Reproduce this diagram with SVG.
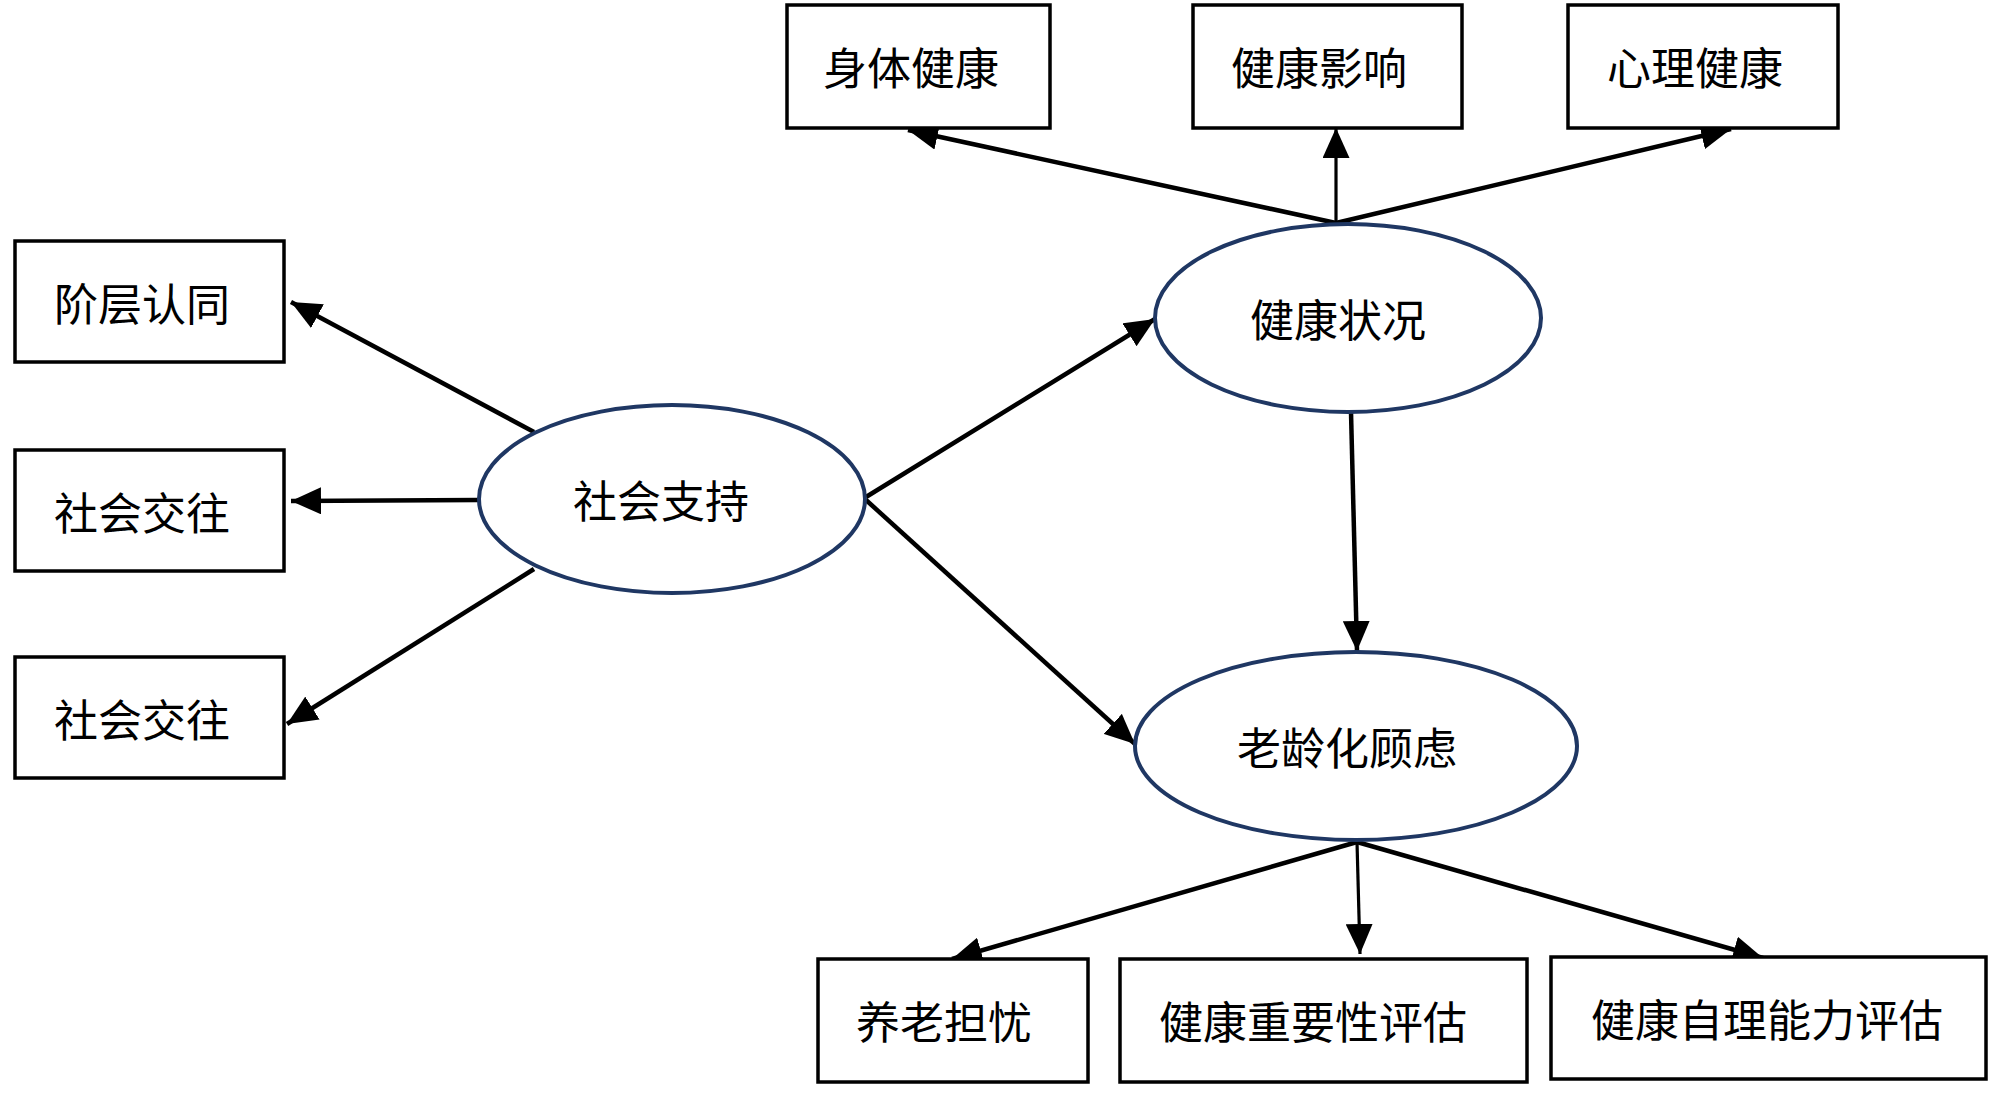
<svg xmlns="http://www.w3.org/2000/svg" width="2000" height="1097" viewBox="0 0 2000 1097">
<style>
.box{fill:#fff;stroke:#000;stroke-width:3.5}
.ell{fill:#fff;stroke:#1f3763;stroke-width:4}
.lbl{font-family:"Noto Sans CJK SC","Noto Sans",sans-serif;font-size:44px;fill:#000;text-anchor:middle;dominant-baseline:central}
.con{stroke:#000;stroke-width:4.5;fill:none;marker-end:url(#ah)}
.thin{stroke-width:3.2}
</style>
<defs>
<marker id="ah" markerUnits="userSpaceOnUse" markerWidth="31" markerHeight="27" refX="30" refY="13.5" orient="auto">
<path d="M0,0 L30,13.5 L0,27 z" fill="#000"/>
</marker>
</defs>
<rect width="2000" height="1097" fill="#fff"/>
<g id="connectors">
<line class="con" x1="1336" y1="223" x2="908" y2="130"/>
<line class="con thin" x1="1336" y1="223" x2="1336" y2="128"/>
<line class="con" x1="1336" y1="223" x2="1731" y2="129"/>
<line class="con" x1="534" y1="432" x2="291" y2="302"/>
<line class="con" x1="479" y1="500" x2="291" y2="501"/>
<line class="con" x1="534" y1="569" x2="287" y2="724"/>
<line class="con" x1="866" y1="497" x2="1155" y2="319"/>
<line class="con" x1="866" y1="500" x2="1135" y2="744"/>
<line class="con" x1="1351" y1="412" x2="1357" y2="651"/>
<line class="con" x1="1357" y1="842" x2="952" y2="959"/>
<line class="con thin" x1="1357" y1="842" x2="1360" y2="954"/>
<line class="con" x1="1357" y1="842" x2="1763" y2="958"/>
</g>
<g id="n-shenti"><rect class="box" x="787" y="5" width="263" height="123"/><text class="lbl" x="911" y="66">身体健康</text></g>
<g id="n-yingxiang"><rect class="box" x="1193" y="5" width="269" height="123"/><text class="lbl" x="1319" y="66">健康影响</text></g>
<g id="n-xinli"><rect class="box" x="1568" y="5" width="270" height="123"/><text class="lbl" x="1695" y="66">心理健康</text></g>
<g id="n-jieceng"><rect class="box" x="15" y="241" width="269" height="121"/><text class="lbl" x="142" y="302">阶层认同</text></g>
<g id="n-jiaowang1"><rect class="box" x="15" y="450" width="269" height="121"/><text class="lbl" x="142" y="511">社会交往</text></g>
<g id="n-jiaowang2"><rect class="box" x="15" y="657" width="269" height="121"/><text class="lbl" x="142" y="718">社会交往</text></g>
<g id="n-shehuizhichi"><ellipse class="ell" cx="672" cy="499" rx="193" ry="94"/><text class="lbl" x="661" y="499">社会支持</text></g>
<g id="n-jiankangzhuangkuang"><ellipse class="ell" cx="1348" cy="318" rx="193" ry="94"/><text class="lbl" x="1338" y="318">健康状况</text></g>
<g id="n-laolinghua"><ellipse class="ell" cx="1356" cy="746" rx="221" ry="94"/><text class="lbl" x="1347" y="746">老龄化顾虑</text></g>
<g id="n-yanglao"><rect class="box" x="818" y="959" width="270" height="123"/><text class="lbl" x="944" y="1020">养老担忧</text></g>
<g id="n-zhongyao"><rect class="box" x="1120" y="959" width="407" height="123"/><text class="lbl" x="1313" y="1020">健康重要性评估</text></g>
<g id="n-zili"><rect class="box" x="1551" y="957" width="435" height="122"/><text class="lbl" x="1767" y="1018">健康自理能力评估</text></g>
</svg>
